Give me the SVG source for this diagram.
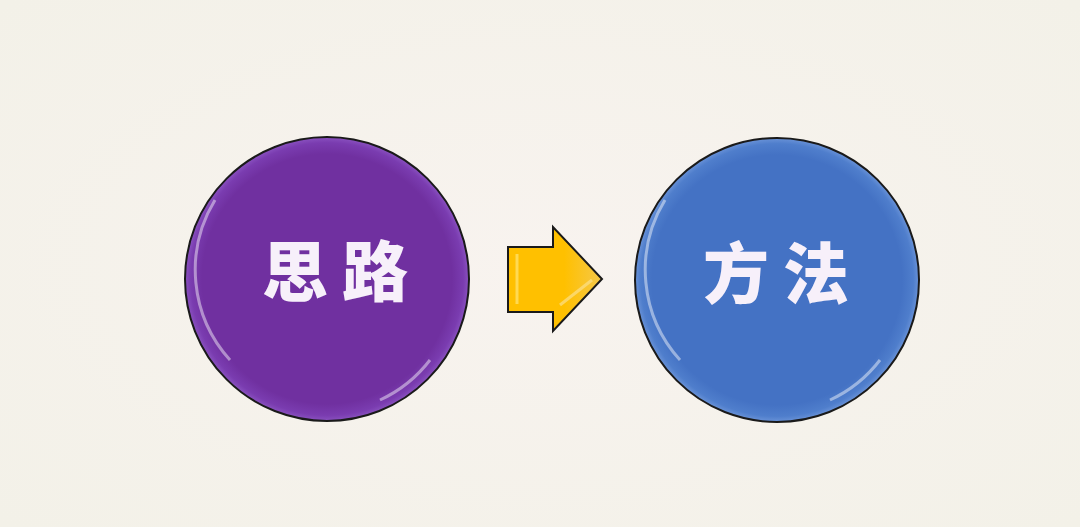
<svg xmlns="http://www.w3.org/2000/svg" width="1080" height="527" viewBox="0 0 1080 527">
  <defs>
    <radialGradient id="bg" cx="0.5" cy="0.5" r="0.7">
      <stop offset="0" stop-color="#f8f3ef"/>
      <stop offset="1" stop-color="#f3f1e8"/>
    </radialGradient>
    <radialGradient id="purpleFill" cx="0.5" cy="0.5" r="0.5">
      <stop offset="0.88" stop-color="#7030a0"/>
      <stop offset="0.96" stop-color="#7a3cb0"/>
      <stop offset="1" stop-color="#8a52c0"/>
    </radialGradient>
    <radialGradient id="blueFill" cx="0.5" cy="0.5" r="0.5">
      <stop offset="0.88" stop-color="#4472c4"/>
      <stop offset="0.96" stop-color="#4f7ecc"/>
      <stop offset="1" stop-color="#6a93d8"/>
    </radialGradient>
    <linearGradient id="arrowFill" x1="0" y1="0" x2="1" y2="0">
      <stop offset="0" stop-color="#ffc000"/>
      <stop offset="0.6" stop-color="#ffc000"/>
      <stop offset="1" stop-color="#f5c84a"/>
    </linearGradient>
  </defs>
  <style>
    .disc { stroke: #1a1a1a; stroke-width: 2; }
    .gloss { fill: none; stroke: #ffffff; stroke-opacity: 0.45; stroke-width: 3; }
    .label { font-family: "Noto Sans CJK SC", "Noto Sans CJK TC", sans-serif; font-weight: 900; font-size: 66px; fill: #f7f0fa; text-anchor: middle; letter-spacing: 14px; }
  </style>
  <rect x="0" y="0" width="1080" height="527" fill="url(#bg)"/>

  <g id="node-silu">
    <circle class="disc" cx="327" cy="279" r="142" fill="url(#purpleFill)"/>
    <path class="gloss" d="M 215 200 A 134 134 0 0 0 230 360"/>
    <path class="gloss" d="M 430 360 A 134 134 0 0 1 380 400" stroke-opacity="0.3"/>
    <text class="label" x="342" y="296">思路</text>
  </g>

  <g id="node-fangfa">
    <circle class="disc" cx="777" cy="280" r="142" fill="url(#blueFill)"/>
    <path class="gloss" d="M 665 200 A 134 134 0 0 0 680 360"/>
    <path class="gloss" d="M 880 360 A 134 134 0 0 1 830 400" stroke-opacity="0.3"/>
    <text class="label" fill="#eef4fb" x="783" y="298">方法</text>
  </g>

  <g id="connectors">
    <polygon points="508,247 553,247 553,227 602,279 553,331 553,312 508,312" fill="url(#arrowFill)" stroke="#1a1a1a" stroke-width="2" stroke-linejoin="miter"/>
    <line x1="517" y1="254" x2="517" y2="304" stroke="#ffe066" stroke-width="3" stroke-opacity="0.8"/>
    <line x1="560" y1="305" x2="592" y2="280" stroke="#fbe08a" stroke-width="3" stroke-opacity="0.7"/>
  </g>
</svg>
